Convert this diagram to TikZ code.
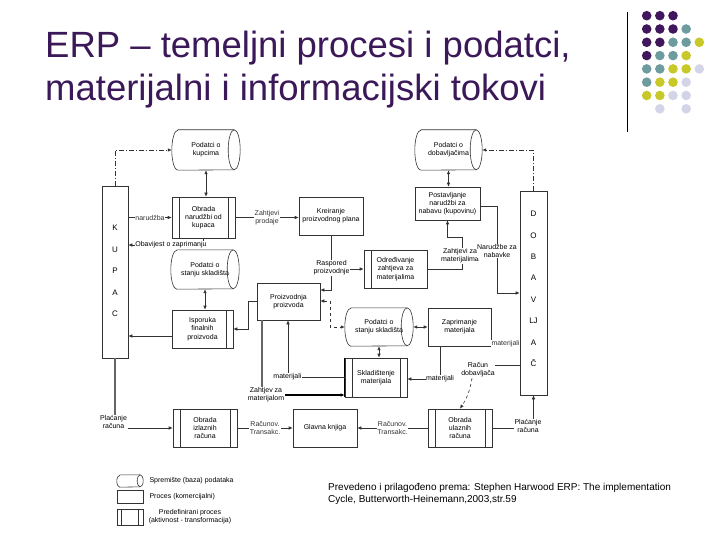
\documentclass[tikz,border=0pt]{standalone}
\usepackage{fontspec}
\setmainfont{Liberation Sans}
\usetikzlibrary{arrows.meta}
\definecolor{titlec}{RGB}{59,24,88}
\definecolor{dpurple}{RGB}{64,22,92}
\definecolor{dteal}{RGB}{110,156,158}
\definecolor{dyellow}{RGB}{200,200,40}
\definecolor{dlav}{RGB}{212,212,232}
\newcommand{\dfont}{\fontsize{7}{8.3}\selectfont}
\newcommand{\cylshape}[3]{%
  \draw[ln] ([xshift=#2]#1.north west) -- ([xshift=-#2]#1.north east)
    arc[start angle=90,end angle=-90,x radius=#2,y radius=#3]
    -- ([xshift=#2]#1.south west)
    arc[start angle=270,end angle=90,x radius=#2,y radius=#3] -- cycle;
  \draw[ln] ([xshift=-#2]#1.north east) arc[start angle=90,end angle=270,x radius=#2,y radius=#3];}
\newcommand{\innerL}[1]{\draw[ln] ([xshift=7.5pt]#1.north west) -- ([xshift=7.5pt]#1.south west);}
\newcommand{\innerR}[1]{\draw[ln] ([xshift=-7.5pt]#1.north east) -- ([xshift=-7.5pt]#1.south east);}
\begin{document}
\begin{tikzpicture}[x=1pt,y=-1pt,
  ln/.style={line width=0.6pt, black!80},
  arr/.style={ln, -{Latex[length=4pt,width=3.5pt]}},
  darr/.style={ln, {Latex[length=4pt,width=3.5pt]}-{Latex[length=4pt,width=3.5pt]}},
  box/.style={draw, ln, text=black, minimum width=64pt, minimum height=38pt, inner sep=0.5pt, align=center, font=\dfont},
  cyl/.style={minimum width=68pt, minimum height=40pt, inner sep=0pt, align=center, font=\dfont},
  lbl/.style={fill=white, inner sep=0.5pt, align=center, font=\dfont},
  dashdot/.style={ln, dash pattern=on 5pt off 2pt on 1pt off 2pt},
  thk/.style={line width=1.3pt, black!60},
  ttl/.style={anchor=base west, inner sep=0pt, text=titlec, font=\fontsize{36.5}{40}\selectfont},
]
\useasboundingbox (0,0) rectangle (720,540);

% title
\node[ttl] (t1) at (45,58) {ERP – temeljni procesi i podatci,};
\node[ttl] (t2) at (45,101) {materijalni i informacijski tokovi};

% decoration
\draw[line width=1pt] (627,12) -- (627,132);
\foreach \c/\r/\col in {0/0/dpurple,1/0/dpurple,2/0/dpurple,
  0/1/dpurple,1/1/dpurple,2/1/dpurple,3/1/dteal,
  0/2/dpurple,1/2/dpurple,2/2/dteal,3/2/dteal,4/2/dyellow,
  0/3/dpurple,1/3/dteal,2/3/dteal,3/3/dyellow,
  0/4/dteal,1/4/dteal,2/4/dyellow,3/4/dyellow,4/4/dlav,
  0/5/dteal,1/5/dyellow,2/5/dyellow,3/5/dlav,
  0/6/dyellow,1/6/dyellow,2/6/dlav,3/6/dlav,
  1/7/dlav,3/7/dlav}
  \fill[\col] ({646.7+13.15*\c},{15.7+13.3*\r}) circle[radius=4.8pt];

% actors
\node[draw, ln, minimum width=26pt, minimum height=172pt] (kupac) at (115,272) {};
\node[align=center, font=\fontsize{8}{21.5}\selectfont] (kupactxt) at (115,271) {K\\U\\P\\A\\C};
\node[draw, ln, minimum width=27pt, minimum height=204pt] (dob) at (533.5,293) {};
\node[align=center, font=\fontsize{8}{21.45}\selectfont] (dobtxt) at (533.5,289) {D\\O\\B\\A\\V\\LJ\\A\\Č};

% data stores
\node[cyl] (pkup) at (206,150) {Podatci o\\kupcima};
\cylshape{pkup}{6pt}{20pt}
\node[cyl, minimum width=67pt] (pdob) at (448.5,150) {Podatci o\\dobavljačima};
\cylshape{pdob}{6pt}{20pt}
\node[cyl, minimum height=39pt] (pskl1) at (205,269.5) {Podatci o\\stanju skladišta};
\cylshape{pskl1}{6pt}{19.5pt}
\node[cyl, minimum height=38pt] (pskl2) at (379,327) {Podatci o\\stanju skladišta};
\cylshape{pskl2}{6pt}{19pt}

% processes
\node[box, minimum width=63pt, minimum height=41pt] (obradaN) at (203.5,217.5) {Obrada\\narudžbi od\\kupaca};
\innerL{obradaN}\innerR{obradaN}
\node[box] (kreiranje) at (331,216) {Kreiranje\\proizvodnog plana};
\node[box, minimum width=65pt, minimum height=33pt] (postav) at (447.5,203.5) {Postavljanje\\narudžbi za\\nabavu (kupovinu)};
\node[box, minimum width=61pt] (isporuka) at (202.5,329) {Isporuka\\finalnih\\proizvoda};
\innerR{isporuka}
\node[box, minimum width=63pt, minimum height=37pt] (proizv) at (288.5,301.5) {Proizvodnja\\proizvoda};
\node[box, minimum width=63pt] (odred) at (395.5,269) {Određivanje\\zahtjeva za\\materijalima};
\innerL{odred}
\node[box, minimum width=63pt] (zapr) at (459.5,327) {Zaprimanje\\materijala};
\node[box, minimum width=62pt, minimum height=39pt] (sklad) at (376,377.5) {Skladištenje\\materijala};
\innerL{sklad}\innerR{sklad}
\draw[line width=1.3pt] (sklad.north west) -- (sklad.south west);
\node[box] (obradaI) at (205,428) {Obrada\\izlaznih\\računa};
\innerL{obradaI}\innerR{obradaI}
\node[box] (glavna) at (325,428) {Glavna knjiga};
\node[box] (obradaU) at (460,428) {Obrada\\ulaznih\\računa};
\innerL{obradaU}\innerR{obradaU}

% connectors - customer side
\draw[dashdot, -{Latex[length=4pt,width=3.5pt]}] (kupac.north) |- (pkup.west);
\draw[darr] (pkup.south) -- (pkup.south |- obradaN.north);
\draw[arr] (kupac.east |- obradaN.west) -- node[lbl] (lnar) {narudžba} (obradaN.west);
\draw[arr] (obradaN.south) -- (obradaN.south |- 0,245) -- (kupac.east |- 0,245);
\node[lbl] (lobav) at (171,245) {Obavijest o zaprimanju};
\draw[arr] (obradaN.east) -- node[lbl] (lzp) {Zahtjevi\\prodaje} (obradaN.east -| kreiranje.west);
\draw[darr] (pskl1.south) -- (pskl1.south |- isporuka.north);
\draw[arr] (isporuka.west |- 0,336) -- (kupac.east |- 0,336);

% production
\coordinate (k1) at (331,290);
\coordinate (k2) at (331,269);
\draw[arr] (kreiranje.south) -- (k1) -- (proizv.east |- k1);
\draw[arr] (k2) -- (odred.west);
\node[lbl] (lrasp) at (331.5,268) {Raspored\\proizvodnje};
\coordinate (p1) at (248,301.5);
\coordinate (p2) at (248,329);
\draw[arr] (proizv.west) -- (p1) -- (p2) -- (isporuka.east);
\coordinate (d1) at (330,301);
\coordinate (d2) at (330,327);
\draw[ln, dashed, {Latex[length=4pt,width=3.5pt]}-{Latex[length=4pt,width=3.5pt]}] (proizv.east |- d1) -- (d1) -- (d2) -- (pskl2.west);
\draw[darr] (pskl2.east) -- (zapr.west);
\draw[darr] (pskl2.south) -- (pskl2.south |- sklad.north);

% materials
\coordinate (m1) at (288,377);
\draw[arr] (sklad.west |- m1) -- (m1) -- (m1 |- proizv.south);
\node[lbl] (lmat1) at (287.5,377) {materijali};
\coordinate (z1) at (262,395);
\draw[thk] (z1 |- proizv.south) -- (z1);
\draw[line width=1.2pt, -{Latex[length=4pt,width=3.5pt]}] (z1) -- (sklad.west |- z1);
\node[lbl] (lzm) at (266,395) {Zahtjev za\\materijalom};
\coordinate (m2) at (440,379);
\draw[arr] (m2 |- zapr.south) -- (m2) -- (sklad.east |- m2);
\node[lbl] (lmat2) at (440,379) {materijali};
\draw[ln] (dob.west |- 0,344) -- node[lbl] (lmat3) {materijali} (zapr.east |- 0,344);

% purchasing
\coordinate (q1) at (462,269);
\coordinate (q2) at (462,237);
\draw[arr] (odred.east) -- (q1) -- (q2) -- (postav.south |- q2) -- (postav.south);
\node[lbl] (lzm2) at (460,256) {Zahtjevi za\\materijalima};
\coordinate (n1) at (497,206);
\coordinate (n2) at (497,293);
\draw[arr] (postav.east |- n1) -- (n1) -- (n2) -- (dob.west |- n2);
\node[lbl] (lnab) at (497,251) {Narudžbe za\\nabavke};
\draw[dashdot, -{Latex[length=4pt,width=3.5pt]}] (dob.north) |- (pdob.east);
\draw[darr] (pdob.south) -- (pdob.south |- postav.north);

% invoices
\node[lbl] (racdob) at (478,370) {Račun\\dobavljača};
\draw[ln] (dob.west |- 0,365) -- (racdob.east |- 0,365);
\draw[ln, dashed, -{Latex[length=4pt,width=3.5pt]}] ([xshift=-6pt]racdob.south) to[bend left=12] (obradaU.north);
\node[lbl] (platD) at (528,426) {Plaćanje\\računa};
\draw[ln] (obradaU.east) -- (platD.west |- obradaU.east);
\draw[arr] (dob.south |- platD.north) -- (dob.south);
\draw[arr] (obradaU.west) -- node[lbl] (lrt2) {Računov.\\Transakc.} (glavna.east);
\draw[arr] (obradaI.east) -- node[lbl] (lrt1) {Računov.\\Transakc.} (glavna.west);
\node[lbl] (platK) at (113.5,422) {Plaćanje\\računa};
\draw[thk] (kupac.south) -- (platK.north -| kupac.south);
\draw[arr] (platK.east |- obradaI.west) -- (obradaI.west);

% legend
\node[cyl, minimum width=26pt, minimum height=12pt] (lcyl) at (130,481) {};
\cylshape{lcyl}{3pt}{6pt}
\node[font=\dfont, anchor=west] (lcyltxt) at (146,481) {Spremište (baza) podataka};
\node[draw, ln, minimum width=26pt, minimum height=13pt] (lproc) at (130,496.5) {};
\node[font=\dfont, anchor=west] (lproctxt) at (146,497) {Proces (komercijalni)};
\node[draw, ln, minimum width=26pt, minimum height=16pt] (lpre) at (130,517) {};
\draw[ln] ([xshift=5pt]lpre.north west) -- ([xshift=5pt]lpre.south west);
\draw[ln] ([xshift=-5pt]lpre.north east) -- ([xshift=-5pt]lpre.south east);
\node[font=\dfont, align=center] (lpretxt) at (190,517) {Predefinirani proces\\(aktivnost - transformacija)};

% citation
\node[anchor=west, align=left, inner sep=0pt, font=\fontsize{10}{12}\selectfont] (cite) at (328,494) {Prevedeno i prilagođeno prema: Stephen Harwood ERP: The implementation\\Cycle, Butterworth-Heinemann,2003,str.59};
\end{tikzpicture}
\end{document}
